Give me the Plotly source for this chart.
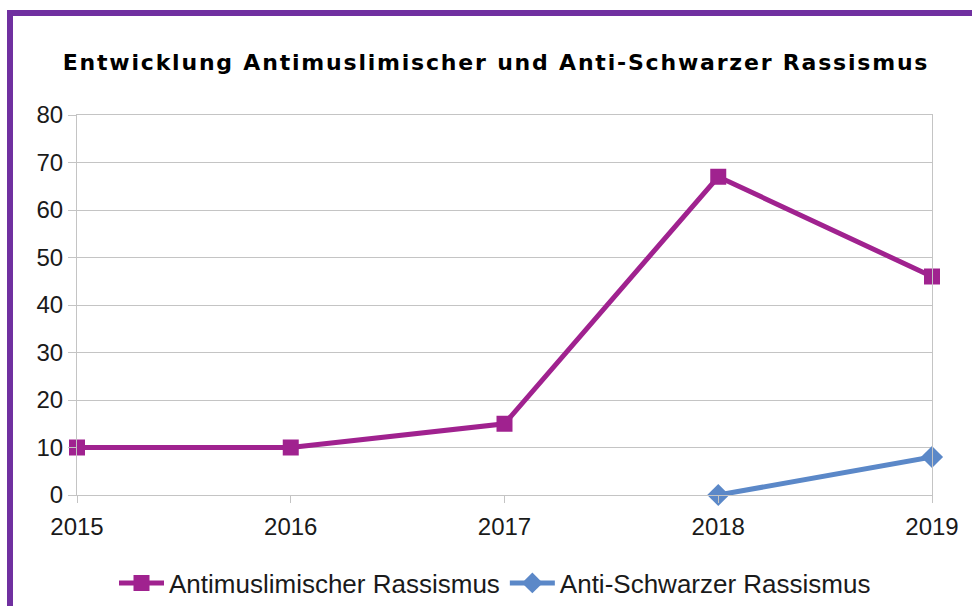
import plotly.graph_objects as go

# Daten aus dem Diagramm
jahre = [2015, 2016, 2017, 2018, 2019]
antimuslimisch = [10, 10, 15, 67, 46]
anti_schwarz = [None, None, None, 0, 8]
y_ticks = [0, 10, 20, 30, 40, 50, 60, 70, 80]

LILA = "#A0228F"
BLAU = "#5B88C8"
RAHMEN = "#7030A0"
GRID = "#C4C4C4"
FONT = "Liberation Sans"

fig = go.Figure()

fig.add_trace(go.Scatter(
    x=jahre, y=antimuslimisch,
    name="Antimuslimischer Rassismus",
    mode="lines+markers",
    line=dict(color=LILA, width=5),
    marker=dict(symbol="square", size=16, color=LILA),
    cliponaxis=False,
))

fig.add_trace(go.Scatter(
    x=jahre, y=anti_schwarz,
    name="Anti-Schwarzer Rassismus",
    mode="lines+markers",
    line=dict(color=BLAU, width=5),
    marker=dict(symbol="diamond", size=17, color=BLAU),
    cliponaxis=False,
))

# Plotbereich: x 77..932 px, y 115..495 px
W, H = 972, 606
ml, mr, mt, mb = 77, 40, 115, 111
pw, ph = W - ml - mr, H - mt - mb

def px_x(p):
    return (p - ml) / pw

def px_y(p):
    return (H - mb - p) / ph

# lila Rahmen oben und links
fig.add_shape(type="line", xref="paper", yref="paper",
              x0=px_x(7), x1=px_x(980), y0=px_y(13), y1=px_y(13),
              line=dict(color=RAHMEN, width=6))
fig.add_shape(type="line", xref="paper", yref="paper",
              x0=px_x(10), x1=px_x(10), y0=px_y(10), y1=px_y(620),
              line=dict(color=RAHMEN, width=6))

fig.update_layout(
    width=W, height=H,
    margin=dict(l=ml, r=mr, t=mt, b=mb, autoexpand=False),
    paper_bgcolor="white",
    plot_bgcolor="white",
    font=dict(family=FONT, size=24, color="#1a1a1a"),
    title=dict(
        text="<b>Entwicklung Antimuslimischer und Anti-Schwarzer Rassismus</b>",
        font=dict(family="DejaVu Sans", size=22, color="black"),
        x=496 / W, xref="container", xanchor="center",
        y=1 - 62 / H, yanchor="middle",
    ),
    legend=dict(
        orientation="h",
        x=px_x(495), xanchor="center",
        y=px_y(583), yanchor="middle",
        font=dict(family=FONT, size=26, color="#1a1a1a"),
        itemwidth=45,
    ),
    showlegend=True,
)

fig.update_xaxes(
    range=[2015, 2019],
    tickvals=jahre,
    ticktext=[str(j) for j in jahre],
    showgrid=False,
    showline=True, linecolor=GRID, linewidth=1, mirror=True,
    ticks="outside", ticklen=7, tickcolor=GRID,
    ticklabelstandoff=3,
    zeroline=False,
)

fig.update_yaxes(
    range=[0, 80],
    tickvals=y_ticks,
    showgrid=True, gridcolor=GRID, gridwidth=1,
    showline=True, linecolor=GRID, linewidth=1, mirror=True,
    ticks="outside", ticklen=8, tickcolor=GRID,
    zeroline=False,
)

# Seitenrand entfernen, Titel etwas sperren wie im Original
js = """
document.body.style.margin = '0';
document.querySelectorAll('.gtitle').forEach(function (t) {
    t.style.letterSpacing = '1.8px';
});
"""

fig.write_html("out.html", post_script=js, config={"displayModeBar": False})
